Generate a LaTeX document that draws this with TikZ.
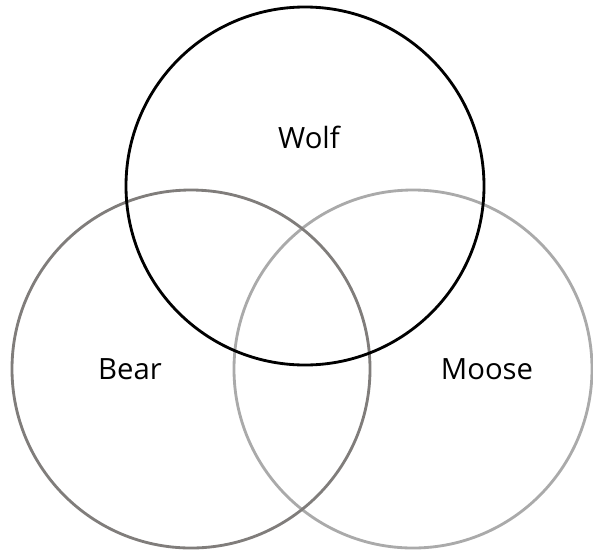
\documentclass[tikz,border=0pt]{standalone}
\usepackage{fontspec}
\setmainfont{Open Sans}
\usetikzlibrary{positioning}
\definecolor{wolfcol}{RGB}{0,0,0}
\definecolor{bearcol}{RGB}{128,125,123}
\definecolor{moosecol}{RGB}{170,170,170}
\begin{document}
\begin{tikzpicture}[
    x=0.03cm,y=-0.03cm,
    ring/.style={draw,circle,minimum size=10.74cm,inner sep=0pt,
                 line width=0.085cm},
    tag/.style={font=\fontsize{25}{29}\selectfont,inner sep=0pt},
]

% ---- frame ---------------------------------------------------------------
\useasboundingbox (0,0) rectangle (593,549);

% ---- centres -------------------------------------------------------------
\def\yTop{186}
\def\yLow{369}

% ---- Circles -------------------------------------------------------------
\node[ring,draw=moosecol] (moose) at (413,\yLow) {};
\node[ring,draw=bearcol]  (bear)  at (191,\yLow) {};
\node[ring,draw=wolfcol]  (wolf)  at (305,\yTop) {};

% ---- Labels --------------------------------------------------------------
\node[tag] (wolfLbl)  at (309,137) {Wolf};
\node[tag] (bearLbl)  at (130,369) {Bear};
\node[tag] (mooseLbl) at (487,369) {Moose};

\end{tikzpicture}
\end{document}
